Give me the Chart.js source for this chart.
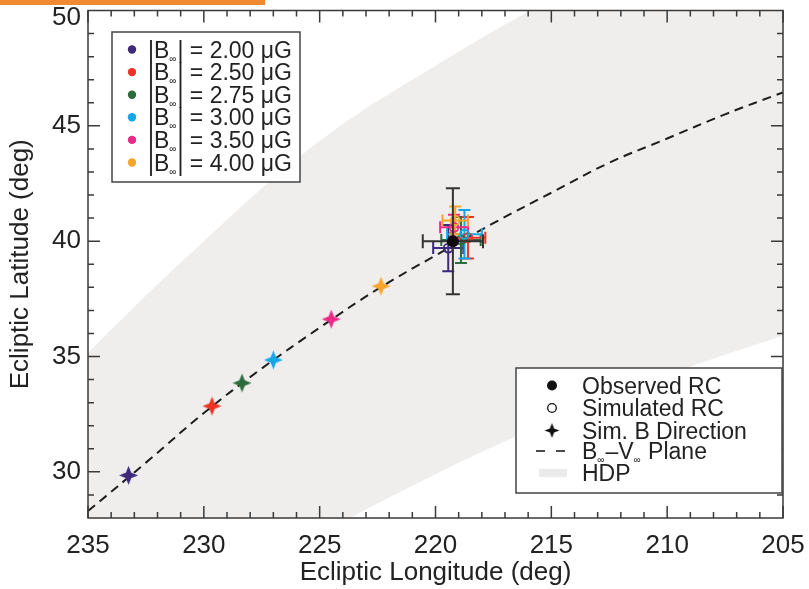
<!DOCTYPE html>
<html>
<head>
<meta charset="utf-8">
<script src="https://cdn.jsdelivr.net/npm/chart.js@4.4.0/dist/chart.umd.min.js"></script>
<style>
    html, body { margin: 0; padding: 0; background: #ffffff; }
    #wrap { position: relative; width: 809px; height: 589px; }
    #topbar { position: absolute; left: 0; top: 0; width: 265px; height: 5px; background: #ef8a32; }
</style>
</head>
<body>
<div id="wrap">
    <canvas id="chart"></canvas>
    <div id="topbar"></div>
</div>
<script>
const fieldLabels = ["2.00", "2.50", "2.75", "3.00", "3.50", "4.00"];
const fieldColors = ["#3d2a7d", "#ee3226", "#2c6b3b", "#15a6e6", "#ec2a88", "#f7a52c"];

// simulated B direction (stars)
const starLon = [233.25, 229.65, 228.35, 227.0, 224.5, 222.35];
const starLat = [29.85, 32.85, 33.85, 34.85, 36.62, 38.05];

// simulated ribbon centres with errors
const simLon = [219.45, 218.6, 218.9, 218.75, 219.2, 219.15];
const simLat = [39.7, 40.15, 40.05, 40.3, 40.6, 40.9];
const simLonErr = [0.65, 0.75, 0.85, 0.75, 0.6, 0.55];
const simLatErr = [1.0, 0.9, 1.0, 1.05, 0.55, 0.6];

// observed ribbon centre
const obsLon = [219.25];
const obsLat = [40.0];
const obsLonErr = [1.3];
const obsLatErr = [2.3];

// B-V plane
const planeLon = [235, 232.5, 230, 227.5, 225, 222.5, 220, 217.5, 215, 212.5, 210, 207.5, 205];
const planeLat = [28.3, 30.4, 32.55, 34.48, 36.25, 37.92, 39.38, 40.78, 42.1, 43.4, 44.45, 45.5, 46.45];

// HDP band
const hdpLon = [240, 235, 230, 225, 220, 215, 210, 205, 200];
const hdpUpper = [29.9, 35.15, 40.0, 44.34, 47.61, 50.5, 53.1, 55.5, 57.8];
const hdpLower = [18.5, 21.6, 24.6, 27.3, 29.9, 32.2, 34.2, 35.9, 37.5];

const xTickLabels = [235, 230, 225, 220, 215, 210, 205];
const yTickLabels = [30, 35, 40, 45, 50];

const FONT = "'Liberation Sans', Arial, Helvetica, sans-serif";
const INK = "#222222";

const pts = (xs, ys) => xs.map((v, i) => ({ x: v, y: ys[i] }));

const makeStar = (color, r) => {
    const c = document.createElement("canvas");
    const s = Math.ceil(r * 2 + 2);
    c.width = c.height = s;
    const g = c.getContext("2d");
    const m = s / 2;
    const inner = r * 0.4;
    g.fillStyle = color;
    g.beginPath();
    for (let i = 0; i < 8; i++) {
        const a = -Math.PI / 2 + i * Math.PI / 4;
        const rr = i % 2 === 0 ? r : inner;
        const px = m + Math.cos(a) * rr;
        const py = m + Math.sin(a) * rr;
        if (i === 0) {
            g.moveTo(px, py);
        } else {
            g.lineTo(px, py);
        }
    }
    g.closePath();
    g.fill();
    return c;
};

const starImages = fieldColors.map((c) => makeStar(c, 9.5));

const drawErr = (ctx, x, y, cx, cy, ex, ey, color, cap) => {
    const px = x.getPixelForValue(cx);
    const py = y.getPixelForValue(cy);
    const x0 = x.getPixelForValue(cx - ex);
    const x1 = x.getPixelForValue(cx + ex);
    const y0 = y.getPixelForValue(cy - ey);
    const y1 = y.getPixelForValue(cy + ey);
    ctx.strokeStyle = color;
    ctx.beginPath();
    ctx.moveTo(x0, py); ctx.lineTo(x1, py);
    ctx.moveTo(px, y0); ctx.lineTo(px, y1);
    ctx.moveTo(x0, py - cap); ctx.lineTo(x0, py + cap);
    ctx.moveTo(x1, py - cap); ctx.lineTo(x1, py + cap);
    ctx.moveTo(px - cap, y0); ctx.lineTo(px + cap, y0);
    ctx.moveTo(px - cap, y1); ctx.lineTo(px + cap, y1);
    ctx.stroke();
};

const errorBars = {
    id: "errorBars",
    afterDatasetDraw(chart, args) {
        const { ctx, scales: { x, y } } = chart;
        ctx.save();
        ctx.lineWidth = 2;
        if (args.index === 3) {
            const drawOrder = [0, 2, 1, 3, 4, 5];
            drawOrder.forEach((i) => {
                drawErr(ctx, x, y, simLon[i], simLat[i], simLonErr[i], simLatErr[i], fieldColors[i], 6);
            });
        }
        if (args.index === 4) {
            drawErr(ctx, x, y, obsLon[0], obsLat[0], obsLonErr[0], obsLatErr[0], "#333333", 7);
        }
        ctx.restore();
    }
};

const frame = {
    id: "frame",
    afterDatasetsDraw(chart) {
        const { ctx, chartArea: a, scales: { x, y } } = chart;
        ctx.save();
        ctx.strokeStyle = "#3a3a3a";
        ctx.lineWidth = 1.5;
        ctx.strokeRect(a.left, a.top, a.right - a.left, a.bottom - a.top);
        ctx.beginPath();
        for (let v = 205; v <= 235; v++) {
            const px = x.getPixelForValue(v);
            const len = v % 5 === 0 ? 12 : 6;
            ctx.moveTo(px, a.bottom); ctx.lineTo(px, a.bottom - len);
            ctx.moveTo(px, a.top); ctx.lineTo(px, a.top + len);
        }
        for (let v = 29; v <= 49; v++) {
            const py = y.getPixelForValue(v);
            const len = v % 5 === 0 ? 12 : 6;
            ctx.moveTo(a.left, py); ctx.lineTo(a.left + len, py);
            ctx.moveTo(a.right, py); ctx.lineTo(a.right - len, py);
        }
        ctx.stroke();

        // the top latitude label is nudged down so it stays inside the figure
        const top = yTickLabels[yTickLabels.length - 1];
        ctx.fillStyle = INK;
        ctx.font = `26px ${FONT}`;
        ctx.textAlign = "right";
        ctx.textBaseline = "middle";
        ctx.fillText(String(top), a.left - 7, Math.max(y.getPixelForValue(top), 18));
        ctx.restore();
    }
};

// text with small infinity subscripts, parts: [text, isSub]
const drawParts = (ctx, parts, x0, base, size) => {
    let cx = x0;
    parts.forEach(([t, sub]) => {
        ctx.font = `${sub ? Math.round(size * 0.45) : size}px ${FONT}`;
        ctx.fillText(t, cx, sub ? base + 4 : base);
        cx += ctx.measureText(t).width + (sub ? 1 : 0);
    });
};

const legends = {
    id: "legends",
    afterDraw(chart) {
        const { ctx } = chart;
        ctx.save();
        // field strength legend
        ctx.fillStyle = "#ffffff";
        ctx.fillRect(112, 32, 188, 150);
        ctx.strokeStyle = "#444444";
        ctx.lineWidth = 1.5;
        ctx.strokeRect(112, 32, 188, 150);
        ctx.textBaseline = "alphabetic";
        fieldLabels.forEach((lab, i) => {
            const cy = 49.5 + i * 22.6;
            ctx.fillStyle = fieldColors[i];
            ctx.beginPath();
            ctx.arc(132, cy, 4.2, 0, Math.PI * 2);
            ctx.fill();
            ctx.fillStyle = INK;
            drawParts(ctx, [["|B", false], ["\u221e", true], ["| = " + lab + " \u03bcG", false]], 148, cy + 8, 23);
        });

        // symbol legend
        ctx.fillStyle = "#ffffff";
        ctx.fillRect(516, 368, 266, 125);
        ctx.strokeStyle = "#444444";
        ctx.strokeRect(516, 368, 266, 125);
        const rows = [385.5, 408, 430.5, 451, 473];
        const sx = 552;
        ctx.fillStyle = "#111111";
        ctx.beginPath();
        ctx.arc(sx, rows[0], 5, 0, Math.PI * 2);
        ctx.fill();
        ctx.strokeStyle = "#111111";
        ctx.lineWidth = 1.3;
        ctx.beginPath();
        ctx.arc(sx, rows[1], 4.3, 0, Math.PI * 2);
        ctx.stroke();
        const blackStar = makeStar("#111111", 7.5);
        ctx.drawImage(blackStar, sx - blackStar.width / 2, rows[2] - blackStar.height / 2);
        ctx.lineWidth = 1.6;
        ctx.beginPath();
        ctx.moveTo(536, rows[3]); ctx.lineTo(545, rows[3]);
        ctx.moveTo(556, rows[3]); ctx.lineTo(565, rows[3]);
        ctx.stroke();
        ctx.fillStyle = "#ebeaea";
        ctx.fillRect(539, rows[4] - 4, 28, 8);

        ctx.fillStyle = INK;
        const tx = 582;
        ctx.font = `23px ${FONT}`;
        ctx.fillText("Observed RC", tx, rows[0] + 8);
        ctx.fillText("Simulated RC", tx, rows[1] + 8);
        ctx.fillText("Sim. B Direction", tx, rows[2] + 8);
        drawParts(ctx, [["B", false], ["\u221e", true], ["\u2013V", false], ["\u221e", true], [" Plane", false]], tx, rows[3] + 8, 23);
        ctx.font = `23px ${FONT}`;
        ctx.fillText("HDP", tx, rows[4] + 8);
        ctx.restore();
    }
};

new Chart(document.getElementById("chart"), {
    type: "scatter",
    data: {
        datasets: [
            {
                label: "HDP",
                data: pts(hdpLon, hdpUpper),
                showLine: true,
                fill: "+1",
                backgroundColor: "#efeeed",
                borderWidth: 0,
                pointRadius: 0,
                tension: 0.4,
                order: 10
            },
            {
                label: "HDP lower",
                data: pts(hdpLon, hdpLower),
                showLine: true,
                fill: false,
                borderWidth: 0,
                pointRadius: 0,
                tension: 0.4,
                order: 9
            },
            {
                label: "B-V Plane",
                data: pts(planeLon, planeLat),
                showLine: true,
                borderColor: "#1e1e1e",
                borderWidth: 2,
                borderDash: [9, 6],
                pointRadius: 0,
                tension: 0.4,
                order: 8
            },
            {
                label: "Sim. B Direction",
                data: pts(starLon, starLat),
                pointStyle: starImages,
                pointRadius: 9.5,
                order: 7
            },
            {
                label: "Simulated RC",
                data: pts(simLon, simLat),
                pointStyle: "circle",
                pointRadius: 4.5,
                pointBorderWidth: 1.8,
                pointBorderColor: fieldColors,
                pointBackgroundColor: "rgba(0,0,0,0)",
                order: 6
            },
            {
                label: "Observed RC",
                data: pts(obsLon, obsLat),
                pointStyle: "circle",
                pointRadius: 6,
                pointBorderWidth: 0,
                pointBackgroundColor: "#0c0c0c",
                order: 5
            }
        ]
    },
    options: {
        responsive: true,
        maintainAspectRatio: false,
        animation: false,
        events: [],
        layout: {
            padding: { top: 9, right: 26, left: 0, bottom: 0 }
        },
        plugins: {
            legend: { display: false },
            tooltip: { enabled: false }
        },
        scales: {
            x: {
                type: "linear",
                reverse: true,
                min: 205,
                max: 235,
                afterBuildTicks: (scale) => {
                    scale.ticks = xTickLabels.map((v) => ({ value: v }));
                },
                afterFit: (scale) => {
                    scale.height = 71;
                    scale.paddingLeft = 0;
                    scale.paddingRight = 0;
                },
                border: { display: false },
                grid: { display: false, drawTicks: false },
                ticks: {
                    color: INK,
                    padding: 12,
                    maxRotation: 0,
                    font: { family: FONT, size: 26 }
                },
                title: {
                    display: true,
                    text: "Ecliptic Longitude (deg)",
                    color: INK,
                    padding: { top: 0, bottom: 1 },
                    font: { family: FONT, size: 26 }
                }
            },
            y: {
                type: "linear",
                min: 28,
                max: 50,
                afterBuildTicks: (scale) => {
                    scale.ticks = yTickLabels.map((v) => ({ value: v }));
                },
                afterFit: (scale) => {
                    scale.width = 88;
                    scale.paddingTop = 0;
                    scale.paddingBottom = 0;
                },
                border: { display: false },
                grid: { display: false, drawTicks: false },
                ticks: {
                    color: INK,
                    padding: 7,
                    font: { family: FONT, size: 26 },
                    callback: (v) => (v === yTickLabels[yTickLabels.length - 1] ? "" : String(v))
                },
                title: {
                    display: true,
                    text: "Ecliptic Latitude (deg)",
                    color: INK,
                    padding: { top: 5, bottom: 0 },
                    font: { family: FONT, size: 26 }
                }
            }
        }
    },
    plugins: [errorBars, frame, legends]
});
</script>
</body>
</html>
